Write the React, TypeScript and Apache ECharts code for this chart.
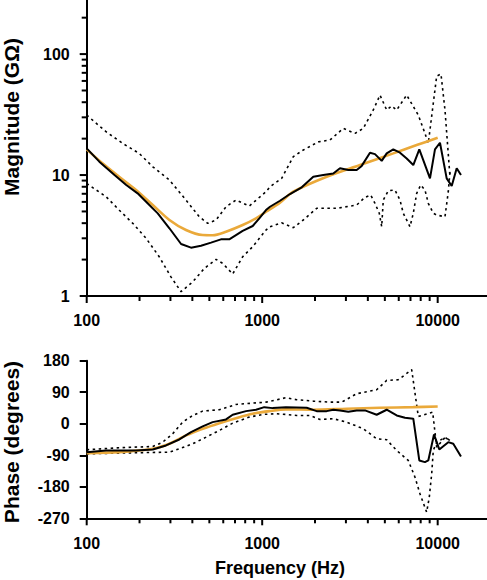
import React, { useEffect, useRef } from 'react';
import * as echarts from 'echarts';

// ---- tick values ----
const freqMajorTicks = [100, 1000, 10000];
const freqMinorTicks = [200, 300, 400, 500, 600, 700, 800, 900, 2000, 3000, 4000, 5000, 6000, 7000, 8000, 9000];
const magMajorTicks = [1, 10, 100];
const magMinorTicks = [2, 3, 4, 5, 6, 7, 8, 9, 20, 30, 40, 50, 60, 70, 80, 90, 200];

// ---- magnitude (GΩ) : [frequency Hz, value] ----
const magMean = [
  [100, 16.6], [118, 12.9], [144, 10.0], [168, 8.27], [195, 7.06], [218, 6.02], [254, 4.82], [296, 3.63],
  [345, 2.69], [393, 2.51], [448, 2.6], [511, 2.76], [582, 2.94], [649, 2.94], [709, 3.19], [774, 3.46],
  [883, 3.79], [963, 4.39], [1051, 5.14], [1108, 5.47], [1263, 6.13], [1440, 6.97], [1680, 7.91], [1955, 9.68],
  [2229, 10.0], [2542, 10.3], [2775, 11.4], [3095, 11.0], [3455, 11.0], [3690, 11.9], [4114, 15.3], [4393, 14.9],
  [4797, 13.1], [5122, 15.1], [5585, 16.3], [6098, 15.3], [6659, 13.7], [7261, 12.1], [7858, 16.3], [9040, 9.39],
  [9652, 16.3], [10306, 18.5], [11253, 9.39], [12021, 8.11], [12834, 11.4], [13576, 10.0],
];
const magUpper = [
  [100, 31.3], [129, 22.8], [160, 18.3], [199, 15.1], [238, 11.7], [296, 9.09], [368, 6.21], [438, 4.52],
  [489, 3.99], [546, 4.25], [622, 5.47], [709, 6.21], [844, 5.54], [1051, 7.28], [1108, 8.01], [1291, 9.39],
  [1504, 14.2], [1715, 16.1], [2088, 18.8], [2434, 19.5], [2898, 24.3], [3380, 22.1], [3768, 24.3], [4295, 34.5],
  [4691, 45.8], [5122, 34.5], [5470, 37.2], [5840, 34.5], [6659, 45.8], [7754, 31.3], [8464, 22.1], [8841, 18.3],
  [9869, 65.8], [10442, 68.4], [11005, 34.5], [11750, 9.68],
];
const magLower = [
  [100, 8.51], [129, 6.62], [153, 5.14], [183, 3.99], [218, 3.0], [259, 2.11], [302, 1.44], [345, 1.085],
  [402, 1.31], [468, 1.69], [546, 2.01], [596, 1.86], [679, 1.52], [774, 2.11], [883, 2.56], [1051, 3.51],
  [1108, 3.74], [1291, 4.03], [1504, 3.67], [1715, 4.25], [2044, 5.31], [2658, 5.31], [3455, 5.65], [3852, 6.54],
  [4152, 6.83], [4393, 5.84], [4648, 4.83], [4797, 3.74], [4898, 6.21], [5231, 7.42], [5711, 7.52], [6098, 6.21],
  [6368, 4.83], [6954, 3.74], [7261, 4.83], [7593, 7.06], [8000, 8.27], [8464, 7.52], [8841, 5.84], [9441, 4.83],
  [9869, 4.67], [11005, 4.52], [11492, 7.28], [11750, 10.6],
];
const magFit = [
  [100, 16.3], [123, 12.5], [153, 9.68], [191, 7.52], [238, 5.65], [296, 4.25], [368, 3.51], [458, 3.19],
  [522, 3.18], [622, 3.4], [774, 3.86], [922, 4.39], [1051, 4.97], [1263, 5.9], [1504, 7.28], [2331, 9.68],
  [3609, 12.1], [5585, 15.1], [7593, 17.7], [10000, 20.3],
];

// ---- phase (degrees) : [frequency Hz, value] ----
const phaseMean = [
  [100, -81.1], [129, -76.3], [191, -76.3], [238, -73.4], [283, -62], [337, -44.9], [393, -24], [458, -7.7],
  [522, 4.6], [622, 12.3], [679, 25.7], [809, 36], [922, 40], [1028, 47.4], [1148, 44.6], [1366, 47.4],
  [1793, 45.7], [2044, 36], [2331, 36], [2542, 40], [2775, 38], [3095, 34.3], [3455, 38], [3852, 38],
  [4491, 25.7], [5122, 40], [5840, 23.7], [6511, 17.1], [7261, 14.3], [7858, -104.9], [8464, -109.7], [8841, -104.9],
  [9528, -30.6], [10212, -73.4], [11492, -52.6], [12270, -57.1], [13576, -93.4],
];
const phaseUpper = [
  [100, -74.3], [153, -68.6], [238, -64.9], [271, -52.6], [309, -28.6], [352, 4.6], [402, 23.7], [458, 36],
  [570, 40], [709, 55.1], [883, 58.9], [1051, 61.7], [1366, 74.3], [1573, 68.6], [1955, 64.6], [2434, 61.7],
  [2838, 61.7], [3455, 85.7], [4491, 97.1], [5122, 123.7], [5965, 125.7], [7111, 154.3], [7754, 20.9], [9365, 33.1],
  [9869, -66.9], [11005, -39.1], [11750, -47.7],
];
const phaseLower = [
  [100, -85.7], [191, -82.9], [296, -81.1], [337, -71.4], [402, -57.1], [479, -38.3], [570, -19.1], [679, 1.7],
  [844, 18.9], [1007, 26.6], [1198, 28.6], [1366, 26.6], [1573, 23.7], [1873, 23.7], [2135, 12.3], [2542, 14.3],
  [3030, 4.6], [3768, -14.3], [4491, -42.9], [5122, -45.7], [5840, -76.3], [6800, -104.9], [7425, -152.6], [7929, -200],
  [8654, -252.6], [8957, -209.7], [9244, -142.9], [9441, -76.3], [9869, -52.6], [11005, -39.1], [11750, -47.7],
];
const phaseFit = [
  [100, -84], [153, -81.1], [238, -71.4], [296, -57.1], [368, -33.4], [458, -14.3], [570, 1.7], [709, 16],
  [883, 28.6], [1098, 36], [1366, 40.9], [1955, 40], [3030, 42.9], [4691, 45.7], [7261, 47.4], [10000, 49.4],
];

const FONT = '"Liberation Sans", Arial, sans-serif';
const ORANGE = '#EAA93A';

function isPow10(v: number) {
  const l = Math.log10(v);
  return Math.abs(l - Math.round(l)) < 1e-6;
}

export default function App() {
  const ref = useRef<HTMLDivElement>(null);

  useEffect(() => {
    const chart = echarts.init(ref.current!, null, { renderer: 'svg' });

    const labelStyle = { color: '#000', fontSize: 16, fontWeight: 'bold', fontFamily: FONT };
    const axisLine = { show: true, onZero: false, lineStyle: { color: '#000', width: 2 } };

    const xAxisBase = (gridIndex: number, margin: number) => ({
      type: 'log', logBase: 10, gridIndex, min: 100, max: 19100,
      axisLine, axisTick: { show: false }, splitLine: { show: false },
      axisLabel: { ...labelStyle, margin, showMinLabel: true, showMaxLabel: false, formatter: (v: number) => (isPow10(v) ? String(Math.round(v)) : '') },
    });

    const xTicks = (idx: number, yBase: number, vals: number[], len: number) => ({
      type: 'custom', xAxisIndex: idx, yAxisIndex: idx, silent: true, clip: false, z: 5,
      data: vals.map((f) => [f, yBase]),
      renderItem: (_p: any, api: any) => {
        const p = api.coord([api.value(0), api.value(1)]);
        return { type: 'line', shape: { x1: p[0], y1: p[1], x2: p[0], y2: p[1] + len }, style: { stroke: '#000', lineWidth: 2 } };
      },
    });
    const yTicks = (vals: number[], len: number) => ({
      type: 'custom', xAxisIndex: 0, yAxisIndex: 0, silent: true, clip: false, z: 5,
      data: vals.map((v) => [100, v]),
      renderItem: (_p: any, api: any) => {
        const p = api.coord([api.value(0), api.value(1)]);
        return { type: 'line', shape: { x1: p[0] - len, y1: p[1], x2: p[0], y2: p[1] }, style: { stroke: '#000', lineWidth: 2 } };
      },
    });

    const dotted = (idx: number, data: number[][]) => ({
      type: 'line', xAxisIndex: idx, yAxisIndex: idx, data, symbol: 'none', showSymbol: false,
      lineStyle: { color: '#000', width: 1.6, type: [2.5, 3.5] }, z: 2,
    });
    const fit = (idx: number, data: number[][]) => ({
      type: 'line', xAxisIndex: idx, yAxisIndex: idx, data, symbol: 'none', showSymbol: false, smooth: 0.3,
      lineStyle: { color: ORANGE, width: 2.6 }, z: 3,
    });
    const mean = (idx: number, data: number[][]) => ({
      type: 'line', xAxisIndex: idx, yAxisIndex: idx, data, symbol: 'none', showSymbol: false,
      lineStyle: { color: '#000', width: 2 }, z: 4,
    });

    const tf = (px: number) => `bold ${px}px ${FONT}`;

    chart.setOption({
      animation: false,
      backgroundColor: '#fff',
      grid: [
        { left: 86.7, top: 0, width: 400.3, height: 296, containLabel: false, outerBoundsMode: 'none' },
        { left: 86.7, top: 360.7, width: 400.3, height: 157.6, containLabel: false, outerBoundsMode: 'none' },
      ],
      xAxis: [xAxisBase(0, 16), xAxisBase(1, 17)],
      yAxis: [
        {
          type: 'log', logBase: 10, gridIndex: 0, min: 1, max: 280,
          axisLine, axisTick: { show: false }, splitLine: { show: false },
          axisLabel: { ...labelStyle, margin: 17, formatter: (v: number) => (isPow10(v) ? String(Math.round(v)) : '') },
        },
        {
          type: 'value', gridIndex: 1, min: -270, max: 180, interval: 90,
          axisLine, splitLine: { show: false },
          axisTick: { show: true, length: 7, lineStyle: { color: '#000', width: 2 } },
          axisLabel: { ...labelStyle, margin: 17 },
        },
      ],
      graphic: [
        { type: 'text', x: 11, y: 117, rotation: Math.PI / 2, style: { text: 'Magnitude (GΩ)', font: tf(21), fill: '#000', align: 'center', verticalAlign: 'middle' } },
        { type: 'text', x: 11, y: 442, rotation: Math.PI / 2, style: { text: 'Phase (degrees)', font: tf(21), fill: '#000', align: 'center', verticalAlign: 'middle' } },
        { type: 'text', x: 280, y: 568, style: { text: 'Frequency (Hz)', font: tf(18), fill: '#000', align: 'center', verticalAlign: 'middle' } },
      ],
      series: [
        dotted(0, magUpper), dotted(0, magLower), fit(0, magFit), mean(0, magMean),
        dotted(1, phaseUpper), dotted(1, phaseLower), fit(1, phaseFit), mean(1, phaseMean),
        xTicks(0, 1, freqMajorTicks, 7), xTicks(0, 1, freqMinorTicks, 5),
        xTicks(1, -270, freqMajorTicks, 7), xTicks(1, -270, freqMinorTicks, 5),
        yTicks(magMajorTicks, 7), yTicks(magMinorTicks, 5),
      ],
    });

    return () => chart.dispose();
  }, []);

  return <div ref={ref} style={{ position: 'absolute', left: 0, top: 0, width: 487, height: 580 }} />;
}
